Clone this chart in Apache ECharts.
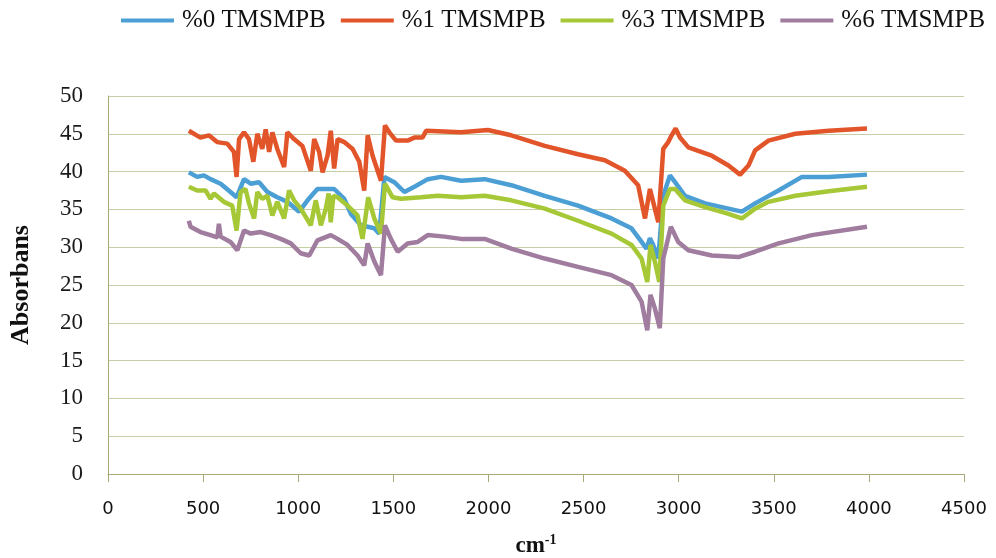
<!DOCTYPE html>
<html>
<head>
<meta charset="utf-8">
<script src="https://cdn.jsdelivr.net/npm/echarts@6/dist/echarts.min.js"></script>
<style>
html,body{margin:0;padding:0;background:#fff;}
#chart{width:996px;height:558px;}
</style>
</head>
<body>
<div id="chart"></div>
<script>
// series names (legend)
var seriesNames = ['%0 TMSMPB', '%1 TMSMPB', '%3 TMSMPB', '%6 TMSMPB'];

// %0 TMSMPB
var wn0 = [425,469,504,539,592,644,676,715,750,794,838,890,943,1005,1049,1101,1171,1189,1242,1277,1329,1400,1426,1453,1505,1558,1611,1681,1751,1856,1980,2120,2296,2471,2647,2752,2805,2831,2849,2866,2893,2919,2954,2981,3033,3139,3262,3332,3402,3525,3648,3789,3990];
var ab0 = [39.9,39.3,39.5,39.0,38.4,37.3,36.6,39.0,38.4,38.6,37.3,36.6,36.0,34.7,36.2,37.7,37.7,37.7,36.4,34.4,32.9,32.5,31.8,39.3,38.6,37.3,38.0,39.0,39.3,38.8,39.0,38.2,36.8,35.5,33.8,32.5,30.7,29.8,31.2,30.3,28.5,36.8,39.5,38.6,36.8,35.8,35.1,34.7,35.8,37.5,39.3,39.3,39.6];

// %1 TMSMPB
var wn1 = [425,486,530,574,627,662,676,689,715,741,764,785,811,829,847,864,890,926,943,978,1022,1066,1084,1110,1128,1154,1171,1189,1207,1242,1286,1321,1347,1365,1391,1435,1456,1479,1514,1575,1611,1654,1672,1856,1997,2120,2296,2471,2612,2717,2787,2823,2849,2866,2893,2919,2945,2963,2984,3007,3051,3174,3262,3323,3367,3402,3472,3613,3789,3990];
var ab1 = [45.4,44.5,44.8,43.9,43.7,42.6,39.3,44.3,45.2,44.3,41.3,45.0,43.0,45.6,42.6,45.2,43.0,40.6,45.2,44.3,43.4,40.1,44.3,42.6,39.9,42.1,45.4,40.4,44.3,43.9,43.0,41.3,37.5,44.8,42.1,38.8,46.1,45.2,44.1,44.1,44.5,44.5,45.4,45.2,45.5,44.8,43.4,42.3,41.5,40.1,38.2,33.8,37.7,36.0,33.3,43.0,43.9,44.8,45.7,44.5,43.2,42.1,40.8,39.6,40.8,42.8,44.1,45.0,45.4,45.7];

// %3 TMSMPB
var wn3 = [425,469,513,539,557,609,653,676,697,723,741,768,785,811,838,864,890,926,952,978,1013,1066,1092,1119,1145,1160,1171,1185,1207,1259,1312,1338,1368,1400,1435,1456,1496,1540,1646,1734,1856,1980,2120,2296,2471,2647,2752,2805,2835,2852,2875,2898,2919,2954,2981,3033,3139,3262,3332,3402,3472,3613,3789,3990];
var ab3 = [38.0,37.5,37.5,36.4,37.1,36.0,35.5,32.2,37.3,37.7,35.8,33.8,37.3,36.4,36.8,34.2,36.0,33.8,37.5,36.2,35.1,32.9,36.2,32.9,35.1,37.1,33.3,36.8,36.6,35.5,34.2,31.1,36.6,33.8,31.8,38.4,36.6,36.4,36.6,36.8,36.6,36.8,36.2,35.1,33.5,31.8,30.3,28.5,25.4,30.3,28.1,25.4,35.5,37.7,37.7,36.2,35.3,34.4,33.8,35.1,36.0,36.8,37.4,38.0];

// %6 TMSMPB
var wn6 = [425,434,486,539,575,583,592,644,680,715,750,803,855,908,961,1013,1058,1101,1171,1207,1259,1312,1347,1365,1400,1435,1456,1487,1523,1575,1628,1681,1769,1856,1980,2120,2296,2471,2647,2752,2805,2835,2852,2875,2901,2919,2959,2998,3051,3174,3314,3402,3525,3700,3990];
var ab6 = [33.5,32.7,32.0,31.6,31.3,33.1,31.4,30.7,29.6,32.2,31.8,32.0,31.6,31.1,30.5,29.2,28.9,30.9,31.6,31.1,30.3,28.9,27.6,30.5,28.1,26.3,32.9,31.1,29.4,30.5,30.7,31.6,31.4,31.1,31.1,29.8,28.5,27.4,26.3,25.0,22.8,19.0,23.7,21.9,19.3,28.5,32.7,30.7,29.6,28.9,28.7,29.4,30.5,31.6,32.7];

var colors = ['#4b9fd5', '#e2552a', '#a6c836', '#a07c9f'];

function pairs(xs, ys){
	var out = [];
	for (var i = 0; i < xs.length; i++) out.push([xs[i], ys[i]]);
	return out;
}

var allData = [pairs(wn0, ab0), pairs(wn1, ab1), pairs(wn3, ab3), pairs(wn6, ab6)];

var myChart = echarts.init(document.getElementById('chart'), null, {renderer: 'canvas'});

var serif = '"Liberation Serif", "Times New Roman", serif';
var sans = '"DejaVu Sans", Verdana, sans-serif';

var series = [];
for (var i = 0; i < seriesNames.length; i++) {
	series.push({
		name: seriesNames[i],
		type: 'line',
		data: allData[i],
		showSymbol: false,
		symbol: 'none',
		animation: false,
		lineStyle: {width: 4.5, color: colors[i]},
		itemStyle: {color: colors[i]}
	});
}

var option = {
	backgroundColor: '#fff',
	color: colors,
	animation: false,
	legend: {
		top: 3,
		left: 116,
		itemWidth: 53,
		itemHeight: 4,
		itemGap: 15,
		icon: 'rect',
		textStyle: {fontFamily: serif, fontSize: 25, color: '#111', padding: [0, 0, 0, 3]},
		data: seriesNames
	},
	grid: {left: 108, right: 32, top: 96, bottom: 84, containLabel: false, outerBoundsMode: 'none'},
	xAxis: {
		type: 'value',
		min: 0,
		max: 4500,
		interval: 500,
		name: 'cm{sup|-1}',
		nameLocation: 'middle',
		nameGap: 59,
		nameTextStyle: {
			fontFamily: serif, fontSize: 23, fontWeight: 'bold', color: '#111',
			rich: {sup: {fontFamily: serif, fontSize: 14, fontWeight: 'bold', color: '#111', verticalAlign: 'top', padding: [0, 0, 12, 0]}}
		},
		axisLine: {lineStyle: {color: '#a8a878', width: 1}},
		axisTick: {show: true, length: 8, lineStyle: {color: '#a8a878'}},
		axisLabel: {fontFamily: sans, fontSize: 18, color: '#111', margin: 26, formatter: function(v){ return String(v); }},
		splitLine: {show: false}
	},
	yAxis: {
		type: 'value',
		min: 0,
		max: 50,
		interval: 5,
		name: 'Absorbans',
		nameLocation: 'middle',
		nameGap: 74,
		nameRotate: 90,
		nameTextStyle: {fontFamily: serif, fontSize: 26, fontWeight: 'bold', color: '#111'},
		axisLine: {show: true, lineStyle: {color: '#a8a878', width: 1}},
		axisTick: {show: false},
		axisLabel: {fontFamily: serif, fontSize: 23, color: '#1a1a1a', margin: 25},
		splitLine: {lineStyle: {color: '#c6cea6', width: 1}}
	},
	series: series
};

myChart.setOption(option);
</script>
</body>
</html>
